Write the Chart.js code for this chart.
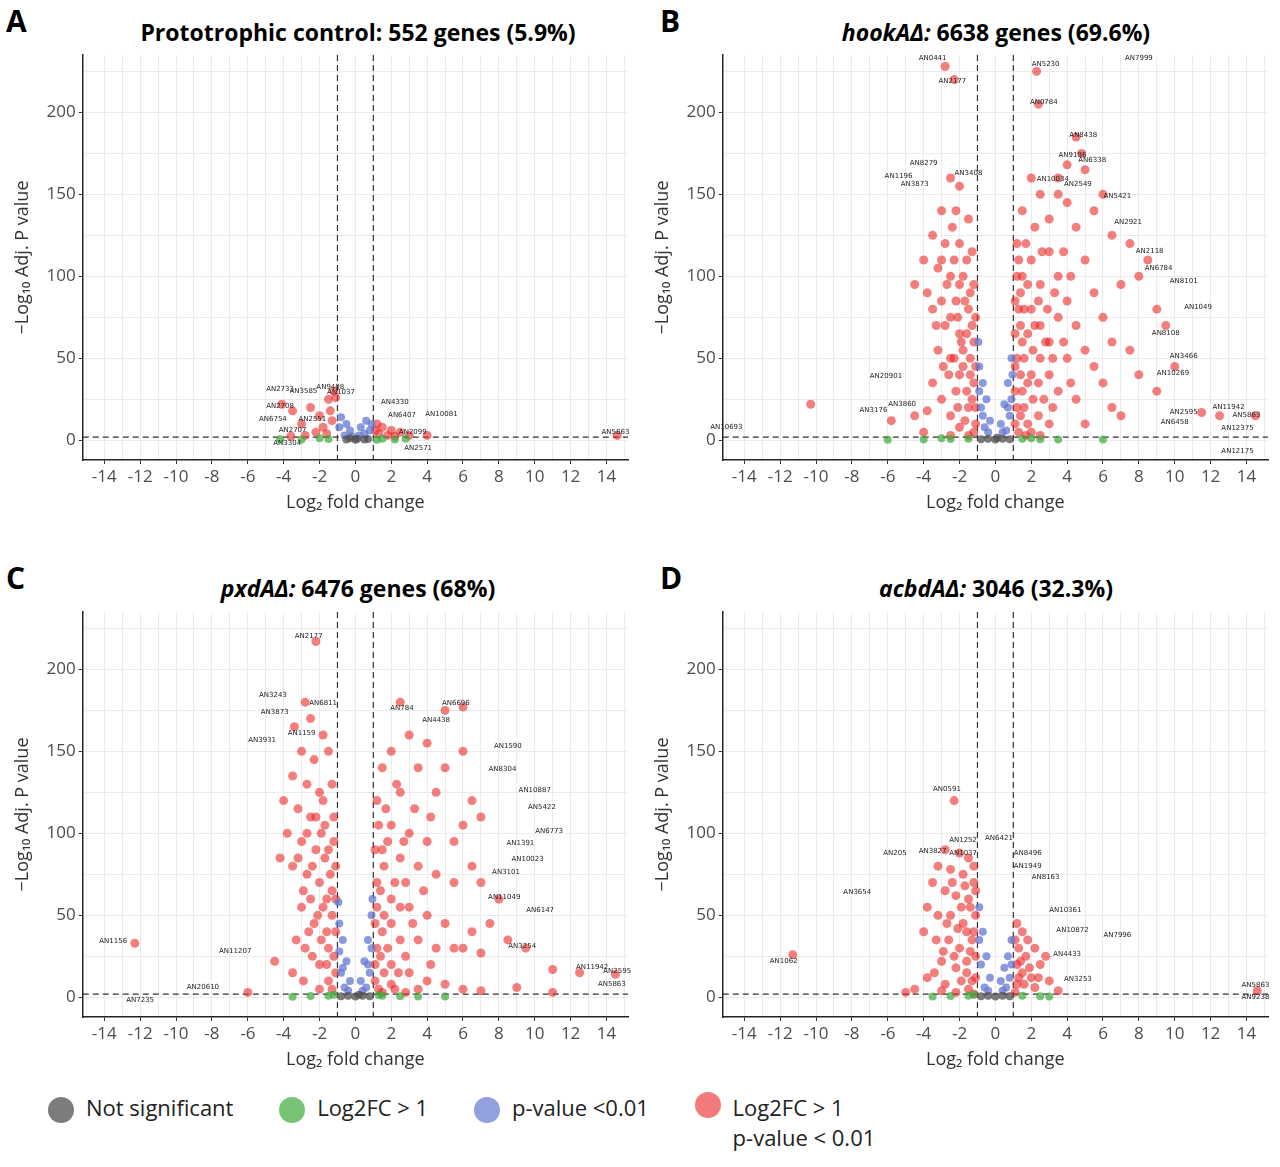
<!DOCTYPE html>
<html><head><meta charset="utf-8">
<script src="https://cdn.jsdelivr.net/npm/chart.js@4"></script>
<style>
body{margin:0;background:#fff;font-family:"Open Sans",Arial,sans-serif;width:1280px;height:1167px;position:relative;overflow:hidden}
.pn{position:absolute;width:640px;height:540px}
.lt{position:absolute;font-weight:bold;font-size:30px}
.ti{position:absolute;font-weight:bold;font-size:23px;text-align:center;width:580px}
.leg{position:absolute;top:1092px;left:48px;font-size:22px;color:#222}
.leg span.d{display:inline-block;width:26px;height:26px;border-radius:50%;vertical-align:middle;margin-right:12px}
</style></head><body>
<div class="lt" style="left:6px;top:0">A</div>
<div class="lt" style="left:660px;top:0">B</div>
<div class="lt" style="left:6px;top:557px">C</div>
<div class="lt" style="left:660px;top:557px">D</div>
<div class="ti" style="left:68px;top:16px">Prototrophic control: 552 genes (5.9%)</div>
<div class="ti" style="left:706px;top:16px"><i>hookAΔ:</i> 6638 genes (69.6%)</div>
<div class="ti" style="left:68px;top:572px"><i>pxdAΔ:</i> 6476 genes (68%)</div>
<div class="ti" style="left:706px;top:572px"><i>acbdAΔ:</i> 3046 (32.3%)</div>
<div class="pn" style="left:0;top:40px"><canvas id="cA"></canvas></div>
<div class="pn" style="left:640px;top:40px"><canvas id="cB"></canvas></div>
<div class="pn" style="left:0;top:597px"><canvas id="cC"></canvas></div>
<div class="pn" style="left:640px;top:597px"><canvas id="cD"></canvas></div>
<div class="leg">
<span class="d" style="background:rgba(80,80,80,0.75)"></span>Not significant
<span style="display:inline-block;width:40px"></span><span class="d" style="background:rgba(60,170,60,0.7)"></span>Log2FC &gt; 1
<span style="display:inline-block;width:40px"></span><span class="d" style="background:rgba(100,120,210,0.7)"></span>p-value &lt;0.01
<span style="display:inline-block;width:40px"></span><span class="d" style="background:rgba(235,50,50,0.65);vertical-align:top"></span><span style="display:inline-block;vertical-align:top">Log2FC &gt; 1<br>p-value &lt; 0.01</span>
</div>
<script>
const xTicks=[-14,-12,-10,-8,-6,-4,-2,0,2,4,6,8,10,12,14];
const yTicks=[0,50,100,150,200];
// Panel A
const aRed=[[-1.2,30],[-1.1,26],[-1.5,25],[-2.5,20],[-3.5,18],[-4.1,22],[-2,15],[-1.3,12],[-3,10],[-1.8,8],[-2.2,5],[-1.4,18],[-1.6,4],[-2.8,3],[-3.6,2.5],[1.2,10],[1.5,8],[2,6],[2.5,5],[3,3],[1.3,4],[1.8,3],[1.1,6],[2.2,2.5],[4,3],[14.6,3]];
const aBlue=[[-0.8,14],[-0.5,10],[-0.3,6],[0.3,8],[0.6,12],[0.8,6],[0.2,3],[-0.6,3],[-0.9,8],[0.9,10],[0.5,4],[-0.2,2.5]];
const aGreen=[[1.5,1],[2.2,0.5],[-1.5,0.8],[-3,0.5],[2.8,1],[-4.2,0.6],[1.2,0.4],[-2,1.2]];
const aGray=[[0,0.3],[-0.5,0.5],[0.5,0.5],[0.1,1],[-0.3,1.2],[0.7,0.8]];
const aLab=[[-1.4,31,'AN9408'],[-0.8,28,'AN1037'],[-4.2,30,'AN2733'],[-2.9,29,'AN3585'],[2.2,22,'AN4330'],[-4.2,20,'AN2708'],[-4.6,12,'AN6754'],[-2.4,12,'AN2551'],[2.6,14,'AN6407'],[4.8,15,'AN10081'],[-3.5,5,'AN2707'],[-3.8,-3,'AN3304'],[3.2,4,'AN2099'],[3.5,-6,'AN2571'],[14.5,4,'AN5863']];
// Panel B
const bRed=[[-2.8,228],[-2.3,220],[2.3,225],[2.4,205],[4.5,185],[4.8,175],[3.5,160],[5,165],[4,168],[6,150],[5.5,140],[7.5,120],[6.5,125],[8.5,110],[8,100],[7,95],[9.5,70],[9,80],[10,45],[9,30],[8,40],[7.5,55],[6.5,60],[6,75],[5.5,90],[5,110],[4.5,130],[4,145],[3.5,150],[3,135],[2.5,150],[2,160],[1.5,140],[1.2,120],[1.5,100],[2,110],[2.5,95],[3,115],[3.5,100],[4,85],[4.5,70],[5,55],[5.5,45],[6,35],[6.5,20],[7,15],[12.5,15],[14.5,15],[11.5,17],[3.5,75],[3,60],[2.5,50],[2,40],[1.5,30],[1.2,20],[1.1,10],[1.5,60],[2,80],[2.5,70],[3,40],[3.5,30],[4,50],[4.5,25],[5,10],[3,10],[2,5],[1.3,80],[1.2,50],
[1.1,30],[1.1,45],[1.1,65],[1.1,85],[1.2,100],[1.3,110],[1.4,15],[1.4,40],[1.4,70],[1.4,90],[1.6,20],[1.6,50],[1.6,80],[1.7,120],[1.8,10],[1.8,35],[1.8,65],[1.8,95],[2.1,25],[2.1,55],[2.2,70],[2.2,130],[2.4,15],[2.4,35],[2.4,85],[2.6,115],[2.7,25],[2.8,60],[2.9,80],[3.2,20],[3.2,50],[3.3,90],[3.8,60],[3.8,115],[4.2,35],[4.2,100],[1.3,5],[1.7,3],[2.5,3],
[-10.3,22],[-5.8,12],[-4.5,15],[-3.8,18],[-4,5],[-2.5,160],[-2,155],[-3,140],[-2.2,140],[-1.5,135],[-3.5,125],[-2.8,120],[-2,120],[-1.3,115],[-4,110],[-3.2,105],[-2.5,100],[-1.8,100],[-1.2,95],[-3.8,90],[-3,85],[-2.2,85],[-1.5,80],[-2.8,70],[-2,65],[-1.2,60],[-2.5,50],[-1.8,45],[-1.2,35],[-2.2,30],[-1.5,20],[-3,25],[-1.1,10],[-2,8],[-3.5,80],[-4.5,95],[-1.6,110],[-2.4,130],[-1.9,60],[-1.4,50],[-2.6,40],[-3.2,55],
[-1.1,20],[-1.1,45],[-1.1,75],[-1.2,5],[-1.3,25],[-1.3,70],[-1.4,40],[-1.4,90],[-1.6,30],[-1.6,65],[-1.7,12],[-1.7,85],[-1.8,55],[-2,40],[-2,95],[-2.1,20],[-2.1,75],[-2.3,50],[-2.3,110],[-2.5,15],[-2.5,75],[-2.7,95],[-2.9,45],[-3,110],[-3.3,70],[-3.5,35],[-1.5,3],[-2.5,3]];
const bBlue=[[-0.9,45],[-0.7,35],[-0.5,25],[-0.3,12],[0.3,10],[0.5,22],[0.7,35],[0.9,50],[-0.8,20],[0.8,15],[-0.6,8],[0.6,6],[-0.95,60],[0.95,40],[-0.9,30],[0.9,25],[-0.7,15],[0.7,20],[-0.4,5],[0.4,5]];
const bGreen=[[-1.5,1],[-2.5,0.8],[-4,0.5],[1.5,1],[2.5,0.7],[3.5,0.5],[-6,0.3],[6,0.5],[-3,1.2],[2,1.3]];
const bGray=[[0,0.5],[-0.4,1],[0.4,1],[-0.8,0.6],[0.8,0.6],[0.1,1.5]];
const bLab=[[-3.5,232,'AN0441'],[-2.4,218,'AN2177'],[2.8,228,'AN5230'],[8,232,'AN7999'],[2.7,205,'AN0784'],[4.9,185,'AN8438'],[-4,168,'AN8279'],[4.3,173,'AN9196'],[5.4,170,'AN6338'],[-1.5,162,'AN3408'],[-5.4,160,'AN1196'],[-4.5,155,'AN3873'],[3.2,158,'AN10034'],[4.6,155,'AN2549'],[6.8,148,'AN5421'],[7.4,132,'AN2921'],[8.6,114,'AN2118'],[9.1,104,'AN6784'],[10.5,96,'AN8101'],[11.3,80,'AN1049'],[9.5,64,'AN8108'],[10.5,50,'AN3466'],[9.9,40,'AN10269'],[-6.1,38,'AN20901'],[13,19,'AN11942'],[10.5,16,'AN2595'],[14,14,'AN5863'],[10,10,'AN6458'],[13.5,6,'AN12375'],[13.5,-8,'AN12175'],[-15,7,'AN10693'],[-6.8,17,'AN3176'],[-5.2,21,'AN3860']];
// Panel C
const cRed=[[-2.2,217],[-2.8,180],[-2.5,170],[-3.4,165],[-1.8,160],[-3,150],[-2.3,145],[-1.5,150],[-3.5,135],[-2.7,130],[-2,125],[-1.3,130],[-4,120],[-3.2,115],[-2.5,110],[-1.7,105],[-1.2,110],[-3.8,100],[-3,95],[-2.2,90],[-1.5,90],[-4.2,85],[-3.5,80],[-2.7,75],[-2,70],[-1.3,65],[-3,55],[-2.3,45],[-1.6,40],[-1.2,25],[-2.8,30],[-2,20],[-3.5,15],[-1.5,10],[-4.5,22],[-6,3],[-12.3,33],[-2.5,60],[-1.8,55],[-1.1,80],
[-1.1,15],[-1.1,40],[-1.1,60],[-1.2,95],[-1.3,5],[-1.3,50],[-1.4,75],[-1.5,30],[-1.6,20],[-1.6,60],[-1.7,85],[-1.9,35],[-1.9,100],[-2,5],[-2.1,50],[-2.2,110],[-2.4,25],[-2.4,80],[-2.6,40],[-2.7,100],[-2.9,65],[-3.2,85],[-3.3,35],[-2.9,10],[-1.8,120],
[2.5,180],[6,177],[5,175],[3,160],[4,155],[6,150],[2,150],[1.5,140],[3.5,140],[5,140],[4.5,125],[6.5,120],[7,110],[6,105],[5.5,95],[2.5,125],[1.2,120],[2,105],[3,100],[4,95],[1.5,90],[2.5,85],[3.5,80],[4.5,75],[5.5,70],[6.5,80],[7,70],[8,60],[7.5,45],[6.5,40],[6,30],[7,27],[8.5,35],[9.5,30],[11,17],[12.5,15],[14.5,14],[1.2,70],[2,60],[3,55],[4,50],[5,45],[5.5,30],[4.5,30],[3.5,35],[2.5,35],[1.5,40],[1.2,30],[2,20],[3,15],[4,10],[5,8],[6,5],[7,4],[1.1,10],[2.2,5],[9,6],[11,3],
[1.1,20],[1.1,45],[1.1,90],[1.2,55],[1.3,5],[1.3,105],[1.4,25],[1.4,65],[1.6,15],[1.6,50],[1.6,80],[1.7,115],[1.8,30],[1.8,95],[2,8],[2,45],[2.2,70],[2.3,130],[2.4,15],[2.5,55],[2.7,95],[2.8,25],[2.8,70],[3.2,45],[3.3,115],[3.5,5],[3.8,65],[4.2,20],[4.2,110],[1.5,3],[2.8,3]];
const cBlue=[[-0.9,45],[-0.7,35],[-0.5,22],[-0.3,10],[0.3,10],[0.5,22],[0.7,35],[0.9,50],[-0.8,15],[0.8,15],[-0.95,58],[0.95,60],[-0.6,6],[0.6,6],[-0.9,28],[0.9,30],[-0.7,18],[0.7,20],[-0.4,4],[0.4,4]];
const cGreen=[[-1.5,1],[-2.5,0.8],[1.5,1],[2.5,0.7],[3.5,0.5],[-3.5,0.4],[5,0.5],[-1.2,1.5],[1.3,1.4]];
const cGray=[[0,0.5],[-0.4,1],[0.4,1],[-0.8,0.6],[0.8,0.6],[0.2,1.5]];
const cLab=[[-2.6,219,'AN2177'],[-4.6,183,'AN3243'],[-1.8,178,'AN6811'],[-4.5,173,'AN3873'],[2.6,175,'AN784'],[4.5,168,'AN4438'],[5.6,178,'AN6696'],[-3,160,'AN1159'],[-5.2,156,'AN3931'],[8.5,152,'AN1590'],[8.2,138,'AN8304'],[10,125,'AN10887'],[10.4,115,'AN5422'],[10.8,100,'AN6773'],[9.2,93,'AN1391'],[9.6,83,'AN10023'],[8.4,75,'AN3101'],[8.3,60,'AN11049'],[10.3,52,'AN6147'],[9.3,30,'AN3254'],[13.2,17,'AN11942'],[14.6,15,'AN2595'],[14.3,7,'AN5863'],[-13.5,33,'AN1156'],[-6.7,27,'AN11207'],[-8.5,5,'AN20610'],[-12,-3,'AN7235']];
// Panel D
const dRed=[[-2.3,120],[-2.8,90],[-2,88],[-1.5,85],[-3.2,80],[-2.5,78],[-1.8,75],[-1.2,80],[-3.5,70],[-2.8,65],[-2.2,62],[-1.5,60],[-1.1,65],[-3.8,55],[-3.2,50],[-2.5,50],[-1.8,45],[-1.2,40],[-4,40],[-3.3,35],[-2.6,35],[-2,30],[-1.4,28],[-3,22],[-2.2,18],[-1.6,15],[-1.1,12],[-2.8,8],[-3.8,12],[-4.5,5],[-1.5,5],[-11.3,26],[-5,3],
[-1.1,25],[-1.1,50],[-1.2,70],[-1.3,10],[-1.3,35],[-1.4,55],[-1.6,22],[-1.6,40],[-1.7,68],[-1.9,10],[-1.9,55],[-2.1,42],[-2.3,25],[-2.4,70],[-2.7,45],[-2.9,28],[-3.4,15],[-1.2,2],[-2.2,3],[-3,4],
[1.2,45],[1.5,40],[1.8,35],[2.2,30],[2.8,25],[1.3,30],[1.7,25],[2.5,20],[1.2,20],[1.5,15],[2,12],[3,10],[1.2,8],[2.2,6],[3.5,4],[1.1,3],[14.6,4],[1.1,35],[1.4,22],[1.6,8],[1.9,18],[2.4,12],[1.3,12]];
const dBlue=[[-0.9,55],[-0.7,40],[-0.5,25],[-0.3,12],[0.3,10],[0.5,18],[0.7,25],[0.9,35],[-0.8,20],[0.8,12],[-0.6,6],[0.6,6],[-0.9,35],[0.9,20],[-0.4,4],[0.4,4]];
const dGreen=[[-1.5,1],[-2.5,0.8],[1.5,1],[2.5,0.7],[-3.5,0.5],[3,0.5],[-1.2,1.5]];
const dGray=[[0,0.5],[-0.4,1],[0.4,1],[-0.8,0.6],[0.8,0.6]];
const dLab=[[-2.7,126,'AN0591'],[-1.8,95,'AN1252'],[0.2,96,'AN6421'],[-5.6,87,'AN205'],[-3.5,88,'AN3827'],[-1.8,87,'AN1037'],[1.8,87,'AN8496'],[1.8,79,'AN1949'],[2.8,72,'AN8163'],[-7.7,63,'AN3654'],[3.9,52,'AN10361'],[4.3,40,'AN10872'],[6.8,37,'AN7996'],[-11.8,21,'AN1062'],[4,25,'AN4433'],[4.6,10,'AN3253'],[14.5,6,'AN5863'],[14.5,-1,'AN9238']];

const pointsOf=a=>a.map(p=>({x:p[0],y:p[1]}));
const guides={id:'guides',beforeDatasetsDraw(ch,args,o){const c=ch.ctx,xs=ch.scales.x,ys=ch.scales.y,ca=ch.chartArea;c.save();c.strokeStyle='#333';c.lineWidth=1.2;c.setLineDash([6,4]);
[-1,1].forEach(v=>{const px=xs.getPixelForValue(v);c.beginPath();c.moveTo(px,ca.top);c.lineTo(px,ca.bottom);c.stroke();});
const py=ys.getPixelForValue(2);c.beginPath();c.moveTo(ca.left,py);c.lineTo(ca.right,py);c.stroke();c.restore();},
afterDatasetsDraw(ch,args,o){const c=ch.ctx,xs=ch.scales.x,ys=ch.scales.y;c.save();c.font='7px "DejaVu Sans"';c.fillStyle='#222';c.textAlign='center';
(o.labels||[]).forEach(l=>c.fillText(l[2],xs.getPixelForValue(l[0]),ys.getPixelForValue(l[1])));c.restore();}};
function mk(id,red,blue,green,gray,lab){
 new Chart(document.getElementById(id),{type:'scatter',
 data:{datasets:[
  {data:pointsOf(gray),backgroundColor:'rgba(80,80,80,0.75)',borderWidth:0,pointRadius:4},
  {data:pointsOf(green),backgroundColor:'rgba(60,170,60,0.7)',borderWidth:0,pointRadius:4},
  {data:pointsOf(blue),backgroundColor:'rgba(100,120,210,0.75)',borderWidth:0,pointRadius:4},
  {data:pointsOf(red),backgroundColor:'rgba(235,40,40,0.6)',borderWidth:0,pointRadius:4.5}]},
 options:{responsive:false,animation:false,events:[],
  layout:{padding:{top:15,right:12,left:8,bottom:0}},
  plugins:{legend:{display:false},tooltip:{enabled:false},guides:{labels:lab}},
  scales:{
   x:{type:'linear',min:-15.2,max:15.2,afterBuildTicks:s=>{s.ticks=[];for(let v=-15;v<=15;v++)s.ticks.push({value:v});},
     ticks:{autoSkip:false,maxRotation:0,color:'#4d4d4d',font:{size:17,family:'"Open Sans"'},callback:v=>xTicks.includes(v)?String(v):''},
     grid:{color:'#ebebeb',tickLength:4,tickColor:c=>xTicks.includes(c.tick.value)?'#333':'rgba(0,0,0,0)'},border:{color:'#222',width:1.5},
     title:{display:true,text:'Log₂ fold change',color:'#333',font:{size:18,family:'"Open Sans"'},padding:{top:2}}},
   y:{type:'linear',min:-12,max:235,afterBuildTicks:s=>{s.ticks=[];for(let v=0;v<=225;v+=25)s.ticks.push({value:v});},
     ticks:{autoSkip:false,color:'#4d4d4d',font:{size:17,family:'"Open Sans"'},callback:v=>yTicks.includes(v)?String(v):''},
     grid:{color:'#ebebeb',tickLength:4,tickColor:c=>yTicks.includes(c.tick.value)?'#333':'rgba(0,0,0,0)'},border:{color:'#222',width:1.5},
     title:{display:true,text:'−Log₁₀ Adj. P value',color:'#333',font:{size:18,family:'"Open Sans"'},padding:{bottom:10}}}}},
 plugins:[guides]});
}
['cA','cB','cC','cD'].forEach(i=>{const c=document.getElementById(i);c.width=640;c.height=478;});
mk('cA',aRed,aBlue,aGreen,aGray,aLab);
mk('cB',bRed,bBlue,bGreen,bGray,bLab);
mk('cC',cRed,cBlue,cGreen,cGray,cLab);
mk('cD',dRed,dBlue,dGreen,dGray,dLab);
</script></body></html>
